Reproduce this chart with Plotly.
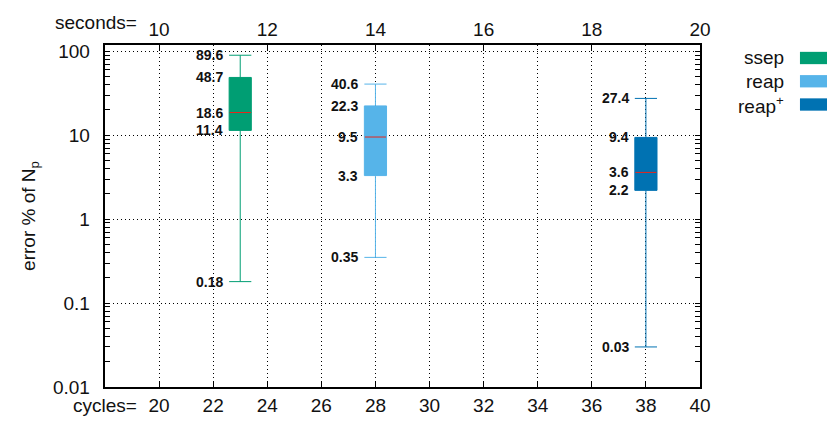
import math
import plotly.graph_objects as go

# --- data -------------------------------------------------------------
names = ["ssep", "reap", "reap<sup>+</sup>"]
positions = [23, 28, 38]            # cycles
lower = [0.18, 0.35, 0.03]
q1 = [11.4, 3.3, 2.2]
median = [18.6, 9.5, 3.6]
q3 = [48.7, 22.3, 9.4]
upper = [89.6, 40.6, 27.4]
colors = ["#009e73", "#56b4e9", "#0072b2"]

cycle_ticks = list(range(20, 41, 2))
second_ticks = list(range(10, 21, 2))
decade_ticks = [0.01, 0.1, 1, 10, 100]
decade_labels = ["0.01", "0.1", "1", "10", "100"]
minor_ticks = [m * 10 ** e for e in range(-2, 3) for m in range(2, 10)]

# --- styling ----------------------------------------------------------
BOX_W = 0.82
FONT = "Liberation Sans, Arial, sans-serif"
TXT = "#111"
GRID_DASH = "1px,3px"
Y_RANGE = [-2, 2.074]

fig = go.Figure()

for i in range(len(names)):
    fig.add_trace(go.Box(
        x=[positions[i]], q1=[q1[i]], median=[median[i]], q3=[q3[i]],
        lowerfence=[lower[i]], upperfence=[upper[i]],
        width=BOX_W, whiskerwidth=1,
        fillcolor=colors[i], line=dict(color=colors[i], width=1),
        boxpoints=False, showlegend=False, hoverinfo="skip",
    ))
    # red median bar
    fig.add_trace(go.Scatter(
        x=[positions[i] - BOX_W / 2 + 0.02, positions[i] + BOX_W / 2 - 0.02],
        y=[median[i], median[i]], mode="lines",
        line=dict(color="#e8261b", width=1), showlegend=False, hoverinfo="skip",
    ))
    # value labels left of each box (log axis -> annotation y in log10 units)
    for v in (lower[i], q1[i], median[i], q3[i], upper[i]):
        txt = f"{v:.2f}" if v < 1 else f"{v:.1f}"
        fig.add_annotation(
            x=positions[i] - BOX_W / 2, y=math.log10(v), yref="y", xref="x",
            text=f"<b>{txt}</b>", showarrow=False, xanchor="right",
            xshift=-4, font=dict(family=FONT, size=14, color=TXT),
        )

# legend drawn at the right margin
for i, n in enumerate(names):
    yp = 0.962 - i * 0.068
    fig.add_annotation(
        x=1.144, y=yp, xref="paper", yref="paper", text=n, showarrow=False,
        xanchor="right", yanchor="middle",
        font=dict(family=FONT, size=19, color=TXT),
    )
    fig.add_shape(
        type="rect", xref="paper", yref="paper",
        x0=1.168, x1=1.22, y0=yp - 0.018, y1=yp + 0.018,
        fillcolor=colors[i], line=dict(width=0),
    )

# axis prefixes
fig.add_annotation(x=0.057, y=-0.055, xref="paper", yref="paper",
                   text="cycles=", showarrow=False, xanchor="right",
                   yanchor="middle", font=dict(family=FONT, size=19, color=TXT))
fig.add_annotation(x=0.057, y=1.066, xref="paper", yref="paper",
                   text="seconds=", showarrow=False, xanchor="right",
                   yanchor="middle", font=dict(family=FONT, size=19, color=TXT))

# invisible traces that activate the top axis and the grid axis
fig.add_trace(go.Scatter(x=[10], y=[1], xaxis="x2", mode="markers",
                         marker=dict(opacity=0), showlegend=False,
                         hoverinfo="skip"))
fig.add_trace(go.Scatter(x=[20], y=[1], yaxis="y2", mode="markers",
                         marker=dict(opacity=0), showlegend=False,
                         hoverinfo="skip"))

axis_common = dict(
    showline=True, linecolor="black", linewidth=1.5,
    ticks="inside", tickcolor="black", tickwidth=1.2,
    tickfont=dict(family=FONT, size=19, color=TXT),
    zeroline=False,
)

# y ticks: labelled decades plus unlabelled minor ticks
y_tickvals = decade_ticks + minor_ticks
y_ticktext = [t + "\u2002" for t in decade_labels] + [""] * len(minor_ticks)

fig.update_layout(
    width=827, height=428,
    margin=dict(l=105, r=127, t=45, b=39),
    plot_bgcolor="white", paper_bgcolor="white",
    showlegend=False,
    font=dict(family=FONT, color=TXT),
    xaxis=dict(
        range=[18, 40], tickvals=cycle_ticks, mirror=False, ticklen=6,
        showgrid=True, gridcolor="black", griddash=GRID_DASH, gridwidth=1,
        **axis_common,
    ),
    xaxis2=dict(
        range=[9, 20], tickvals=second_ticks, overlaying="x", side="top",
        showgrid=False, anchor="y", ticklen=6,
        **axis_common,
    ),
    yaxis=dict(
        type="log", range=Y_RANGE, tickvals=y_tickvals,
        ticktext=y_ticktext, mirror="ticks", ticklen=5,
        showgrid=False,
        title=dict(text="error % of N<sub>p</sub>",
                   font=dict(family=FONT, size=19, color=TXT), standoff=12),
        **axis_common,
    ),
    # decade grid lines only
    yaxis2=dict(
        type="log", range=Y_RANGE, overlaying="y", side="left", anchor="x",
        tickvals=decade_ticks, showticklabels=False, ticks="",
        showline=False, zeroline=False,
        showgrid=True, gridcolor="black", griddash=GRID_DASH, gridwidth=1,
    ),
)

fig.write_html("out.html")
